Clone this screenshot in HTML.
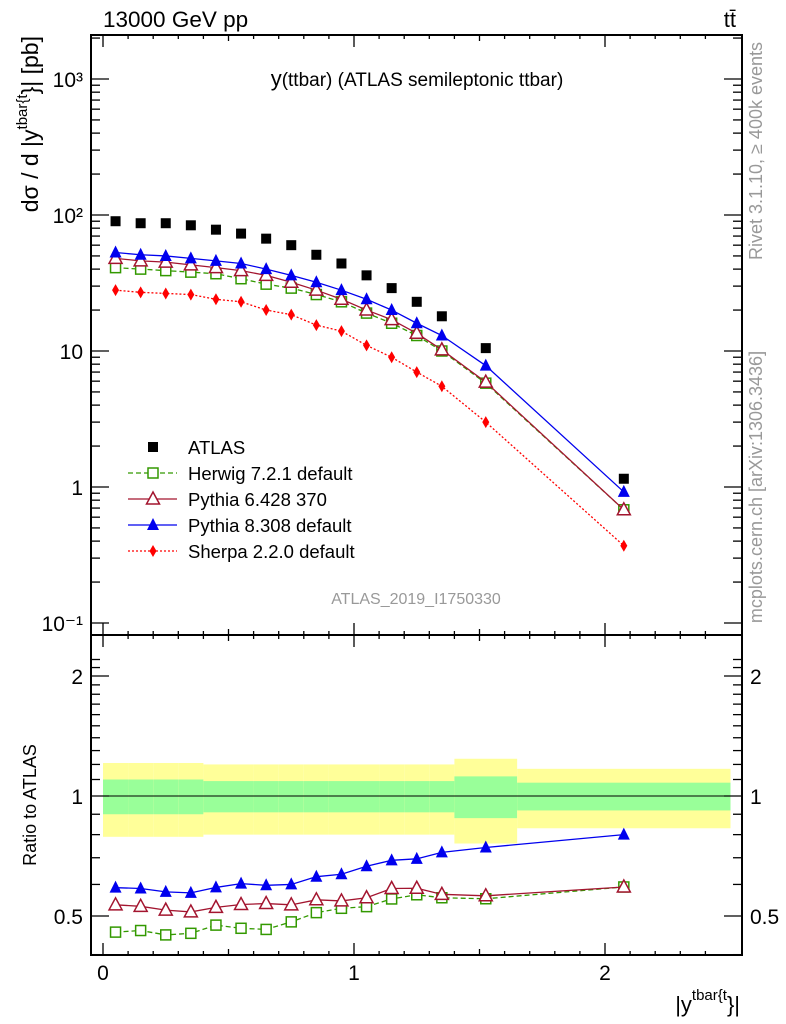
<!DOCTYPE html>
<html><head><meta charset="utf-8"><style>
body{margin:0;background:#fff;}
svg{display:block;font-family:"Liberation Sans",sans-serif;}
</style></head><body>
<svg id="c" width="786" height="1024" xmlns="http://www.w3.org/2000/svg"></svg>
<script>
const xCenters=[0.05,0.15,0.25,0.35,0.45,0.55,0.65,0.75,0.85,0.95,1.05,1.15,1.25,1.35,1.525,2.075];
const binEdges=[0,0.1,0.2,0.3,0.4,0.5,0.6,0.7,0.8,0.9,1.0,1.1,1.2,1.3,1.4,1.65,2.5];
const atlas=[90,87,87,84,78,73,67,60,51,44,36,29,23,18,10.5,1.15];
const herwig=[41,40,39,38,37,34,31,29,26,23,19,16,13,10,5.8,0.68];
const pythia6=[48,46,45,43,41,39,36,32,28,24,20,17,13.5,10.2,5.9,0.68];
const pythia8=[53,51,50,48,46,44,40,36,32,28,24,20,16,13,7.8,0.92];
const sherpa=[28,27,26.5,26,24,23,20,18.5,15.5,14,11,9,7,5.5,3.0,0.37];
const bandOuter=[0.21,0.21,0.21,0.21,0.2,0.2,0.2,0.2,0.2,0.2,0.2,0.2,0.2,0.2,0.24,0.17];
const bandInner=[0.1,0.1,0.1,0.1,0.09,0.09,0.09,0.09,0.09,0.09,0.09,0.09,0.09,0.09,0.12,0.08];
const yTicksMain=[0.1,1,10,100,1000];
const yTickLabelsMain=["10\u207B\u00B9","1","10","10\u00B2","10\u00B3"];
const xTicks=[0,1,2];

const L=91,R=742,T=35,M=635,B=955;
const X=v=>103+v*251;
const Y=v=>487-Math.log10(v)*136;
const YR=r=>796-Math.log2(r)*120;
const svg=document.getElementById('c');
const NS='http://www.w3.org/2000/svg';
function el(tag,a,parent){const e=document.createElementNS(NS,tag);for(const k in a)e.setAttribute(k,a[k]);(parent||svg).appendChild(e);return e;}
function txt(s,a){const e=el('text',a);e.textContent=s;return e;}

for(let i=0;i<atlas.length;i++){
  const x0=X(binEdges[i]),x1=X(binEdges[i+1]);
  const b=el('rect',{x:x0,y:YR(1+bandOuter[i]),width:x1-x0,height:YR(1-bandOuter[i])-YR(1+bandOuter[i]),fill:'#ffff99'});
  
  
  const g=el('rect',{x:x0,y:YR(1+bandInner[i]),width:x1-x0,height:YR(1-bandInner[i])-YR(1+bandInner[i]),fill:'#99ff99'});
  
  
}
el('line',{x1:L,x2:R,y1:YR(1),y2:YR(1),stroke:'#000','stroke-width':1});

const f1=el('rect',{x:L,y:T,width:R-L,height:M-T,fill:'none',stroke:'#000','stroke-width':2});

const f2=el('rect',{x:L,y:M,width:R-L,height:B-M,fill:'none',stroke:'#000','stroke-width':2});


for(let v=0;v<=2.5;v+=0.1){
  const xx=X(v);const maj=Math.abs(v-Math.round(v*2)/2)<1e-6;const len=Math.abs(v-Math.round(v))<1e-6?12:(maj?6:4);
  for(const [y0,d] of [[T,1],[M,-1],[M,1],[B,-1]]) el('line',{x1:xx,x2:xx,y1:y0,y2:y0+d*len,stroke:'#000','stroke-width':1.3});
}
xTicks.forEach(v=>{const t=txt(String(v),{x:X(v),y:980,'font-size':21,'text-anchor':'middle'});});

for(let e=-1;e<3.4;e++){for(let m=1;m<10;m++){const v=m*Math.pow(10,e);const yy=Y(v);if(yy<T||yy>M)continue;const len=m==1?18:9;
 el('line',{x1:L,x2:L+len,y1:yy,y2:yy,stroke:'#000','stroke-width':1.3});el('line',{x1:R,x2:R-len,y1:yy,y2:yy,stroke:'#000','stroke-width':1.3});}}
yTicksMain.forEach((v,i)=>{const t=txt(yTickLabelsMain[i],{x:83,y:Y(v)+8,'font-size':21,'text-anchor':'end'});});

const rt=[0.3,0.4,0.5,0.6,0.7,0.8,0.9,1,1.1,1.2,1.3,1.4,1.5,1.6,1.7,1.8,1.9,2,2.1,2.2];
rt.forEach(v=>{const yy=YR(v);if(yy<M||yy>B)return;const maj=(v==0.5||v==1||v==2);const len=maj?18:9;
 el('line',{x1:L,x2:L+len,y1:yy,y2:yy,stroke:'#000','stroke-width':1.3});el('line',{x1:R,x2:R-len,y1:yy,y2:yy,stroke:'#000','stroke-width':1.3});});
[[2,'2'],[1,'1'],[0.5,'0.5']].forEach(([v,s])=>{
 const a=txt(s,{x:83,y:YR(v)+8,'font-size':21,'text-anchor':'end'});
 const b=txt(s,{x:750,y:YR(v)+8,'font-size':21});});

function marker(kind,x,y,col,g){
 if(kind=='sq') el('rect',{x:x-5,y:y-5,width:10,height:10,fill:'#000'},g);
 if(kind=='osq') el('rect',{x:x-5,y:y-5,width:10,height:10,fill:'#fff',stroke:col,'stroke-width':1.5},g);
 if(kind=='otri') el('polygon',{points:`${x},${y-7} ${x-6.5},${y+5} ${x+6.5},${y+5}`,fill:'#fff',stroke:col,'stroke-width':1.5},g);
 if(kind=='tri') el('polygon',{points:`${x},${y-7} ${x-6},${y+5} ${x+6},${y+5}`,fill:col},g);
 if(kind=='dia') el('polygon',{points:`${x},${y-6} ${x-3.5},${y} ${x},${y+6} ${x+3.5},${y}`,fill:col},g);
}
const series=[
 {n:'herwig',d:herwig,c:'#339900',k:'osq',dash:'5,3'},
 {n:'pythia6',d:pythia6,c:'#a3152f',k:'otri',dash:''},
 {n:'pythia8',d:pythia8,c:'#0000ee',k:'tri',dash:''},
 {n:'sherpa',d:sherpa,c:'#ff0000',k:'dia',dash:'2,2'}];
series.forEach(s=>{
 const g=el('g',{});
 el('polyline',{points:s.d.map((v,i)=>X(xCenters[i])+','+Y(v)).join(' '),fill:'none',stroke:s.c,'stroke-width':1.3,'stroke-dasharray':s.dash},g);
 s.d.forEach((v,i)=>marker(s.k,X(xCenters[i]),Y(v),s.c,g));
 if(s.n!='sherpa'){
  const gr=el('g',{});
  el('polyline',{points:s.d.map((v,i)=>X(xCenters[i])+','+YR(v/atlas[i])).join(' '),fill:'none',stroke:s.c,'stroke-width':1.3,'stroke-dasharray':s.dash},gr);
  s.d.forEach((v,i)=>marker(s.k,X(xCenters[i]),YR(v/atlas[i]),s.c,gr));
 }
});
const ga=el('g',{});
atlas.forEach((v,i)=>marker('sq',X(xCenters[i]),Y(v),'#000',ga));

const leg=[['ATLAS','sq','#000',null],['Herwig 7.2.1 default','osq','#339900','5,3'],['Pythia 6.428 370','otri','#a3152f',''],['Pythia 8.308 default','tri','#0000ee',''],['Sherpa 2.2.0 default','dia','#ff0000','2,2']];
leg.forEach((l,i)=>{const y=447+i*26;const g=el('g',{});
 if(l[3]!==null) el('line',{x1:128,x2:177,y1:y,y2:y,stroke:l[2],'stroke-width':1.3,'stroke-dasharray':l[3]},g);
 marker(l[1],153,y,l[2],g);
 const t=el('text',{x:188,y:y+7,'font-size':18.5},g);t.textContent=l[0];});

function T2(s,a,name){const t=txt(s,a);return t;}
T2('13000 GeV pp',{x:103,y:27,'font-size':22.5},'energy-label');
T2('tt\u0304',{x:736,y:27,'font-size':22},'process-label').setAttribute('text-anchor','end');
const ti=T2('',{x:417,y:86,'font-size':22,'text-anchor':'middle'},'plot-title');ti.innerHTML='y<tspan font-size="19">(ttbar) (ATLAS semileptonic ttbar)</tspan>';
T2('ATLAS_2019_I1750330',{x:416,y:604,'font-size':16,fill:'#999','text-anchor':'middle'},'analysis-id');
const yl=T2('',{transform:'translate(38,36) rotate(-90)','font-size':23,'text-anchor':'end'},'y-axis-title');
yl.innerHTML='d\u03C3 / d |y<tspan dy="-11" font-size="15">tbar{t</tspan><tspan dy="11">}| [pb]</tspan>';
T2('Ratio to ATLAS',{transform:'translate(36,805) rotate(-90)','font-size':18,'text-anchor':'middle'},'ratio-axis-title');
const xl=T2('',{x:740,y:1012,'font-size':22,'text-anchor':'end'},'x-axis-title');
xl.innerHTML='|y<tspan dy="-12" font-size="15">tbar{t</tspan><tspan dy="12">}|</tspan>';
T2('Rivet 3.1.10, \u2265 400k events',{transform:'translate(762,151) rotate(-90)','font-size':18,fill:'#999','text-anchor':'middle'},'rivet-label');
T2('mcplots.cern.ch [arXiv:1306.3436]',{transform:'translate(762,487) rotate(-90)','font-size':18,fill:'#999','text-anchor':'middle'},'mcplots-label');
</script>
</body></html>
